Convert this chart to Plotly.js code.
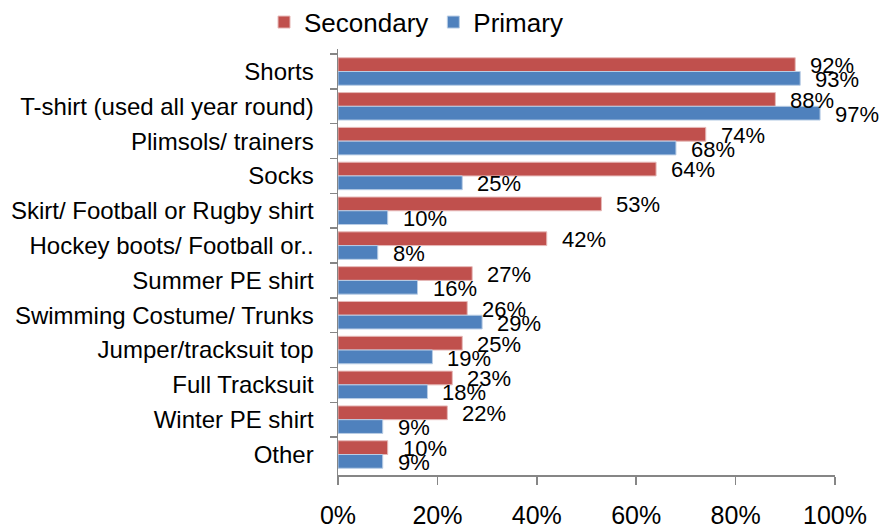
<!DOCTYPE html>
<html>
<head>
<meta charset="utf-8">
<script src="https://cdn.plot.ly/plotly-3.0.1.min.js"></script>
<style>html,body{margin:0;padding:0;background:#fff;}#chart{width:879px;height:529px;}</style>
</head>
<body>
<div id="chart"></div>
<script>
const categories = [
  "Shorts",
  "T-shirt (used all year round)",
  "Plimsols/ trainers",
  "Socks",
  "Skirt/ Football or Rugby shirt",
  "Hockey boots/ Football or..",
  "Summer PE shirt",
  "Swimming Costume/ Trunks",
  "Jumper/tracksuit top",
  "Full Tracksuit",
  "Winter PE shirt",
  "Other"
];
const secondary = [92, 88, 74, 64, 53, 42, 27, 26, 25, 23, 22, 10];
const primary   = [93, 97, 68, 25, 10, 8, 16, 29, 19, 18, 9, 9];
const xTicks = [0, 20, 40, 60, 80, 100];
const xTickLabels = ["0%", "20%", "40%", "60%", "80%", "100%"];

const FONT = "Liberation Sans, Arial, sans-serif";
const RED = "#C0504D", BLUE = "#4F81BD";

const traces = [
  {type: "bar", orientation: "h", name: "Secondary", y: categories, x: secondary,
   marker: {color: RED, line: {color: "#E6B9B8", width: 1}}, hoverinfo: "skip"},
  {type: "bar", orientation: "h", name: "Primary", y: categories, x: primary,
   marker: {color: BLUE, line: {color: "#B9CDE5", width: 1}}, hoverinfo: "skip"}
];

const annotations = [];
categories.forEach((c, i) => {
  annotations.push({x: secondary[i], y: c, xref: "x", yref: "y", text: secondary[i] + "%",
    showarrow: false, xanchor: "left", xshift: 13, yshift: 6,
    font: {family: FONT, size: 22, color: "#000"}});
  annotations.push({x: primary[i], y: c, xref: "x", yref: "y", text: primary[i] + "%",
    showarrow: false, xanchor: "left", xshift: 13, yshift: -8,
    font: {family: FONT, size: 22, color: "#000"}});
});

const layout = {
  width: 879, height: 529,
  margin: {l: 338, r: 44, t: 49, b: 54, autoexpand: false},
  paper_bgcolor: "#fff", plot_bgcolor: "#fff",
  barmode: "group", bargap: 0.21, bargroupgap: 0,
  font: {family: FONT, color: "#000"},
  showlegend: true,
  legend: {orientation: "h", x: 0.157, xanchor: "center", y: 1.063, yanchor: "middle",
    font: {family: FONT, size: 26, color: "#000"}, traceorder: "normal",
    itemwidth: 30, tracegroupgap: 0},
  xaxis: {range: [0, 100], tickvals: xTicks, ticktext: xTickLabels, showgrid: false,
    zeroline: false, showline: true, linecolor: "#868686", linewidth: 1.5,
    ticks: "outside", ticklen: 8, tickcolor: "#868686", tickwidth: 1.5,
    ticklabelstandoff: 9, automargin: false,
    tickfont: {family: FONT, size: 25, color: "#000"}},
  yaxis: {autorange: "reversed", type: "category", showgrid: false, zeroline: false,
    showline: true, linecolor: "#868686", linewidth: 1.5,
    ticks: "outside", tickson: "boundaries", ticklen: 7, tickcolor: "#868686", tickwidth: 1.5,
    ticklabelstandoff: 18, automargin: false,
    tickfont: {family: FONT, size: 24, color: "#000"}},
  annotations: annotations
};

Plotly.newPlot("chart", traces, layout, {displayModeBar: false, staticPlot: true});
</script>
</body>
</html>
